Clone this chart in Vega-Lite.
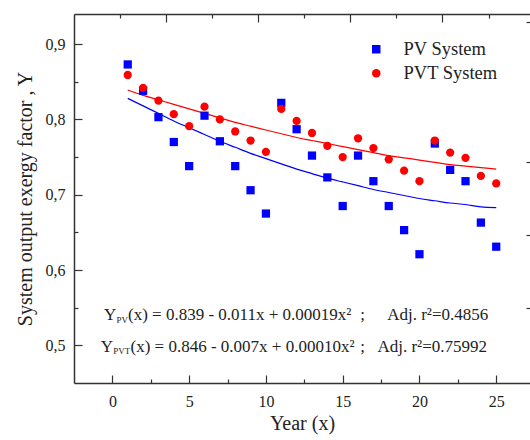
{
  "$schema": "https://vega.github.io/schema/vega-lite/v6.json",
  "width": 456,
  "height": 369,
  "autosize": "none",
  "padding": {"left": 74, "top": 14, "right": 0, "bottom": 57},
  "config": {
    "view": {"stroke": null},
    "font": "Liberation Serif",
    "axis": {
      "labelFont": "Liberation Serif",
      "titleFont": "Liberation Serif",
      "labelFontSize": 16,
      "titleFontSize": 20,
      "titleFontWeight": "normal",
      "labelColor": "#222",
      "titleColor": "#222",
      "tickColor": "#333",
      "domainColor": "#333",
      "domainWidth": 1.5,
      "tickWidth": 1.2,
      "grid": false
    },
    "legend": {
      "labelFont": "Liberation Serif",
      "labelFontSize": 18.5,
      "labelColor": "#222",
      "symbolSize": 72,
      "labelOffset": 18,
      "rowPadding": 5,
      "padding": 0,
      "symbolStrokeWidth": 0
    }
  },
  "datasets": {
    "pts": [
      {"year": 1, "value": 0.873, "series": "PV System"},
      {"year": 2, "value": 0.838, "series": "PV System"},
      {"year": 3, "value": 0.803, "series": "PV System"},
      {"year": 4, "value": 0.770, "series": "PV System"},
      {"year": 5, "value": 0.738, "series": "PV System"},
      {"year": 6, "value": 0.805, "series": "PV System"},
      {"year": 7, "value": 0.771, "series": "PV System"},
      {"year": 8, "value": 0.738, "series": "PV System"},
      {"year": 9, "value": 0.706, "series": "PV System"},
      {"year": 10, "value": 0.675, "series": "PV System"},
      {"year": 11, "value": 0.822, "series": "PV System"},
      {"year": 12, "value": 0.787, "series": "PV System"},
      {"year": 13, "value": 0.752, "series": "PV System"},
      {"year": 14, "value": 0.723, "series": "PV System"},
      {"year": 15, "value": 0.685, "series": "PV System"},
      {"year": 16, "value": 0.752, "series": "PV System"},
      {"year": 17, "value": 0.718, "series": "PV System"},
      {"year": 18, "value": 0.685, "series": "PV System"},
      {"year": 19, "value": 0.653, "series": "PV System"},
      {"year": 20, "value": 0.621, "series": "PV System"},
      {"year": 21, "value": 0.768, "series": "PV System"},
      {"year": 22, "value": 0.733, "series": "PV System"},
      {"year": 23, "value": 0.718, "series": "PV System"},
      {"year": 24, "value": 0.663, "series": "PV System"},
      {"year": 25, "value": 0.631, "series": "PV System"},
      {"year": 1, "value": 0.859, "series": "PVT System"},
      {"year": 2, "value": 0.842, "series": "PVT System"},
      {"year": 3, "value": 0.825, "series": "PVT System"},
      {"year": 4, "value": 0.807, "series": "PVT System"},
      {"year": 5, "value": 0.791, "series": "PVT System"},
      {"year": 6, "value": 0.817, "series": "PVT System"},
      {"year": 7, "value": 0.800, "series": "PVT System"},
      {"year": 8, "value": 0.784, "series": "PVT System"},
      {"year": 9, "value": 0.772, "series": "PVT System"},
      {"year": 10, "value": 0.757, "series": "PVT System"},
      {"year": 11, "value": 0.814, "series": "PVT System"},
      {"year": 12, "value": 0.798, "series": "PVT System"},
      {"year": 13, "value": 0.782, "series": "PVT System"},
      {"year": 14, "value": 0.765, "series": "PVT System"},
      {"year": 15, "value": 0.750, "series": "PVT System"},
      {"year": 16, "value": 0.775, "series": "PVT System"},
      {"year": 17, "value": 0.762, "series": "PVT System"},
      {"year": 18, "value": 0.747, "series": "PVT System"},
      {"year": 19, "value": 0.732, "series": "PVT System"},
      {"year": 20, "value": 0.718, "series": "PVT System"},
      {"year": 21, "value": 0.772, "series": "PVT System"},
      {"year": 22, "value": 0.756, "series": "PVT System"},
      {"year": 23, "value": 0.749, "series": "PVT System"},
      {"year": 24, "value": 0.725, "series": "PVT System"},
      {"year": 25, "value": 0.715, "series": "PVT System"}
    ],
    "fitPV": [
      {"year": 1, "value": 0.828},
      {"year": 2, "value": 0.818},
      {"year": 3, "value": 0.808},
      {"year": 4, "value": 0.798},
      {"year": 5, "value": 0.789},
      {"year": 6, "value": 0.780},
      {"year": 7, "value": 0.771},
      {"year": 8, "value": 0.763},
      {"year": 9, "value": 0.755},
      {"year": 10, "value": 0.748},
      {"year": 11, "value": 0.741},
      {"year": 12, "value": 0.734},
      {"year": 13, "value": 0.728},
      {"year": 14, "value": 0.722},
      {"year": 15, "value": 0.717},
      {"year": 16, "value": 0.712},
      {"year": 17, "value": 0.707},
      {"year": 18, "value": 0.703},
      {"year": 19, "value": 0.699},
      {"year": 20, "value": 0.695},
      {"year": 21, "value": 0.692},
      {"year": 22, "value": 0.689},
      {"year": 23, "value": 0.687},
      {"year": 24, "value": 0.684},
      {"year": 25, "value": 0.683}
    ],
    "fitPVT": [
      {"year": 1, "value": 0.839},
      {"year": 2, "value": 0.832},
      {"year": 3, "value": 0.826},
      {"year": 4, "value": 0.820},
      {"year": 5, "value": 0.814},
      {"year": 6, "value": 0.808},
      {"year": 7, "value": 0.802},
      {"year": 8, "value": 0.796},
      {"year": 9, "value": 0.791},
      {"year": 10, "value": 0.786},
      {"year": 11, "value": 0.781},
      {"year": 12, "value": 0.776},
      {"year": 13, "value": 0.772},
      {"year": 14, "value": 0.768},
      {"year": 15, "value": 0.764},
      {"year": 16, "value": 0.760},
      {"year": 17, "value": 0.756},
      {"year": 18, "value": 0.752},
      {"year": 19, "value": 0.749},
      {"year": 20, "value": 0.746},
      {"year": 21, "value": 0.743},
      {"year": 22, "value": 0.740},
      {"year": 23, "value": 0.738},
      {"year": 24, "value": 0.736},
      {"year": 25, "value": 0.734}
    ],
    "eq": [
      {"year": -0.54, "value": 0.5336, "label": "Y"},
      {"year": 1.02, "value": 0.5336, "label": "(x) = 0.839 - 0.011x + 0.00019x²"},
      {"year": 16.15, "value": 0.5336, "label": ";"},
      {"year": 17.9, "value": 0.5336, "label": "Adj. r²=0.4856"},
      {"year": -0.76, "value": 0.4915, "label": "Y"},
      {"year": 1.18, "value": 0.4915, "label": "(x) = 0.846 - 0.007x + 0.00010x²"},
      {"year": 16.15, "value": 0.4915, "label": ";"},
      {"year": 17.26, "value": 0.4915, "label": "Adj. r²=0.75992"}
    ],
    "sub": [
      {"year": 0.27, "value": 0.530, "label": "PV"},
      {"year": 0.06, "value": 0.4885, "label": "PVT"}
    ]
  },
  "layer": [
    {
      "data": {"name": "fitPV"},
      "mark": {"type": "line", "strokeWidth": 1.2, "interpolate": "monotone", "color": "#0000ff"},
      "encoding": {
        "x": {"field": "year", "type": "quantitative", "scale": {"domain": [-2.5, 27.2], "nice": false, "zero": false},
          "axis": {"values": [2.5, 7.5, 12.5, 17.5, 22.5], "tickSize": -4, "labels": false, "domain": false, "title": null, "orient": "bottom"}},
        "y": {"field": "value", "type": "quantitative", "scale": {"domain": [0.45, 0.94], "nice": false, "zero": false},
          "axis": {"values": [0.55, 0.65, 0.75, 0.85], "tickSize": -4, "labels": false, "domain": false, "title": null, "orient": "left"}}
      }
    },
    {
      "data": {"name": "fitPVT"},
      "mark": {"type": "line", "strokeWidth": 1.2, "interpolate": "monotone", "color": "#ff0000"},
      "encoding": {
        "x": {"field": "year", "type": "quantitative", "scale": {"domain": [-2.5, 27.2], "nice": false, "zero": false}, "axis": null},
        "y": {"field": "value", "type": "quantitative", "scale": {"domain": [0.45, 0.94], "nice": false, "zero": false}, "axis": null}
      }
    },
    {
      "data": {"name": "pts"},
      "mark": {"type": "point", "filled": true, "opacity": 1},
      "encoding": {
        "x": {"field": "year", "type": "quantitative", "scale": {"domain": [-2.5, 27.2], "nice": false, "zero": false},
          "axis": {"values": [0, 5, 10, 15, 20, 25], "tickSize": -8, "labelPadding": 18, "title": "Year (x)", "orient": "bottom", "domain": true}},
        "y": {"field": "value", "type": "quantitative", "scale": {"domain": [0.45, 0.94], "nice": false, "zero": false},
          "axis": {"values": [0.5, 0.6, 0.7, 0.8, 0.9], "tickSize": -8, "labelPadding": 17, "titlePadding": 10, "labelExpr": "replace(format(datum.value, '.1f'), '.', ',')", "title": "System output exergy factor , Y", "orient": "left", "domain": true}},
        "color": {"field": "series", "type": "nominal", "scale": {"domain": ["PV System", "PVT System"], "range": ["#0000ff", "#ff0000"]},
          "legend": {"orient": "none", "legendX": 293, "legendY": 26, "title": null, "labelFont": "Liberation Serif", "labelFontSize": 18.5, "labelOffset": 18}},
        "shape": {"field": "series", "type": "nominal", "scale": {"domain": ["PV System", "PVT System"], "range": ["square", "circle"]},
          "legend": {"orient": "none", "legendX": 293, "legendY": 26, "title": null, "labelFont": "Liberation Serif", "labelFontSize": 18.5, "labelOffset": 18}},
        "size": {"value": 68}
      }
    },
    {
      "data": {"name": "eq"},
      "mark": {"type": "text", "align": "left", "baseline": "alphabetic", "fontSize": 17, "font": "Liberation Serif", "color": "#222"},
      "encoding": {
        "x": {"field": "year", "type": "quantitative", "scale": {"domain": [-2.5, 27.2], "nice": false, "zero": false},
          "axis": {"values": [3.5, 9.5, 15.5, 21.5], "tickSize": -8, "labels": false, "domain": true, "title": null, "orient": "top"}},
        "y": {"field": "value", "type": "quantitative", "scale": {"domain": [0.45, 0.94], "nice": false, "zero": false},
          "axis": {"values": [0.55, 0.647, 0.744, 0.93], "tickSize": -4, "labels": false, "domain": false, "title": null, "orient": "right"}},
        "text": {"field": "label"}
      }
    },
    {
      "data": {"name": "sub"},
      "mark": {"type": "text", "align": "left", "baseline": "alphabetic", "fontSize": 9, "font": "Liberation Serif", "color": "#222"},
      "encoding": {
        "x": {"field": "year", "type": "quantitative", "scale": {"domain": [-2.5, 27.2], "nice": false, "zero": false},
          "axis": {"values": [0.5, 6.5, 12.5, 18.5, 24.5], "tickSize": -4, "labels": false, "domain": false, "title": null, "orient": "top"}},
        "y": {"field": "value", "type": "quantitative", "scale": {"domain": [0.45, 0.94], "nice": false, "zero": false}, "axis": null},
        "text": {"field": "label"}
      }
    }
  ],
  "resolve": {"axis": {"x": "independent", "y": "independent"}}
}
